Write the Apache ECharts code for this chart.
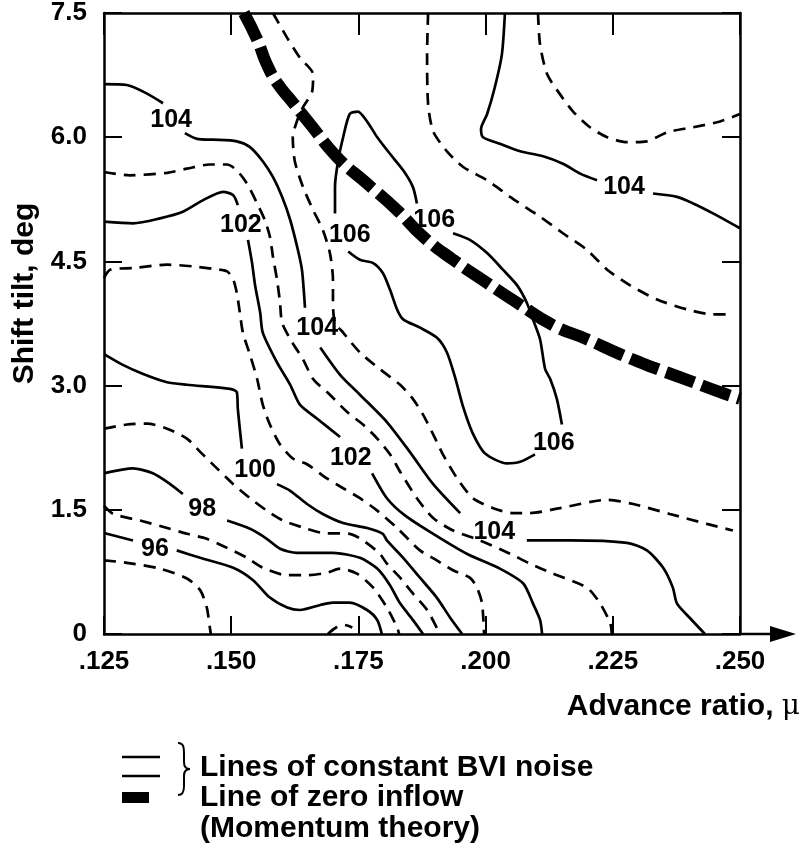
<!DOCTYPE html>
<html>
<head>
<meta charset="utf-8">
<script src="https://cdn.jsdelivr.net/npm/echarts/dist/echarts.min.js"></script>
<style>
  html, body { margin: 0; padding: 0; background: #fff; }
  #chart { width: 808px; height: 843px; }
</style>
</head>
<body>
<div id="chart"></div>
<script>
// Axis tick labels
const muTickLabels = ['.125', '.150', '.175', '.200', '.225', '.250'];
const tiltTickLabels = ['0', '1.5', '3.0', '4.5', '6.0', '7.5'];

// Lines of constant BVI noise, as [advance ratio, shaft tilt (deg)] segments.
// Segments are broken where an inline level label sits.
const bvi104West = [
  [[0.125, 6.64], [0.1295, 6.63], [0.1327, 6.55], [0.1366, 6.41]],
  [[0.1409, 6.05], [0.1433, 5.98], [0.1464, 5.97], [0.1511, 5.95], [0.1537, 5.88], [0.1562, 5.71], [0.1582, 5.52], [0.1600, 5.28], [0.1616, 5.00], [0.1631, 4.64], [0.1639, 4.40], [0.1643, 4.12], [0.1645, 3.94]],
  [[0.1675, 3.46], [0.1714, 3.13], [0.1753, 2.89], [0.1806, 2.56], [0.1851, 2.20], [0.1897, 1.81], [0.1950, 1.46]],
  [[0.2081, 1.13], [0.2166, 1.13], [0.2278, 1.10], [0.2317, 1.01], [0.2349, 0.80], [0.2368, 0.56], [0.2376, 0.37], [0.2402, 0.19], [0.2431, 0]]
];
const bvi104East = [
  [[0.2038, 7.5], [0.2032, 7.00], [0.2018, 6.60], [0.2003, 6.28], [0.1991, 6.10], [0.1995, 6.00], [0.2028, 5.92], [0.2068, 5.83], [0.2113, 5.77], [0.2152, 5.68], [0.2186, 5.56], [0.2219, 5.48]],
  [[0.2329, 5.32], [0.2376, 5.28], [0.2408, 5.20], [0.2447, 5.08], [0.25, 4.90]]
];
const bvi103 = [
  [[0.125, 5.58], [0.1301, 5.54], [0.1374, 5.57], [0.1413, 5.62], [0.1458, 5.67], [0.1492, 5.67], [0.1511, 5.60], [0.1531, 5.44], [0.1551, 5.20], [0.1566, 5.00], [0.1576, 4.80], [0.1582, 4.56], [0.1590, 4.28], [0.1596, 4.00], [0.1600, 3.76], [0.1620, 3.52], [0.1641, 3.32], [0.1661, 3.08], [0.1694, 2.89], [0.1728, 2.68], [0.1759, 2.53], [0.1787, 2.36], [0.1812, 2.17], [0.1832, 1.96], [0.1865, 1.64], [0.1897, 1.40], [0.1936, 1.25], [0.1989, 1.13], [0.2048, 0.97], [0.2087, 0.85], [0.2132, 0.73], [0.2199, 0.56], [0.2225, 0.37], [0.2245, 0.13], [0.2248, 0]]
];
const bvi102 = [
  [[0.125, 4.98], [0.1307, 4.96], [0.1360, 5.02], [0.1405, 5.10], [0.1445, 5.24], [0.1484, 5.34], [0.1504, 5.30], [0.1513, 5.18]],
  [[0.1533, 4.76], [0.1541, 4.48], [0.1547, 4.21], [0.1557, 3.88], [0.1562, 3.64], [0.1590, 3.28], [0.1616, 3.01], [0.1635, 2.77], [0.1669, 2.60], [0.1714, 2.38]],
  [[0.1777, 1.94], [0.1806, 1.64], [0.1842, 1.43], [0.1897, 1.21], [0.1963, 0.97], [0.2028, 0.79], [0.2074, 0.61], [0.2093, 0.37], [0.2107, 0.17], [0.2111, 0]]
];
const bvi101 = [
  [[0.125, 4.30], [0.1262, 4.40], [0.1307, 4.42], [0.1374, 4.46], [0.1425, 4.44], [0.1464, 4.41], [0.1492, 4.38], [0.1504, 4.28], [0.1511, 4.12], [0.1517, 3.88], [0.1523, 3.64], [0.1537, 3.37], [0.1551, 3.08], [0.1562, 2.77], [0.1576, 2.53], [0.1596, 2.29], [0.1621, 2.12], [0.1649, 2.05], [0.1688, 1.88], [0.1720, 1.76], [0.1753, 1.64], [0.1787, 1.49], [0.1826, 1.28], [0.1871, 1.01], [0.1904, 0.89], [0.1936, 0.77], [0.1969, 0.68], [0.1983, 0.56], [0.1993, 0.37], [0.1997, 0]]
];
const bvi100 = [
  [[0.125, 3.38], [0.1287, 3.25], [0.1327, 3.14], [0.1374, 3.04], [0.1413, 3.01], [0.1498, 2.96], [0.1511, 2.92], [0.1513, 2.72], [0.1521, 2.24]],
  [[0.1590, 1.81], [0.1616, 1.73], [0.1649, 1.57], [0.1680, 1.45], [0.1720, 1.34], [0.1767, 1.28], [0.1798, 1.21], [0.1806, 1.13], [0.1838, 0.92], [0.1871, 0.68], [0.1904, 0.44], [0.1930, 0.20], [0.1954, 0]]
];
const bvi99 = [
  [[0.125, 2.48], [0.1295, 2.53], [0.1335, 2.54], [0.1374, 2.48], [0.1413, 2.36], [0.1439, 2.20], [0.1472, 2.00], [0.1504, 1.81], [0.1537, 1.64], [0.1570, 1.49], [0.1602, 1.37], [0.1649, 1.27], [0.1680, 1.22], [0.1733, 1.21], [0.1759, 1.13], [0.1792, 0.97], [0.1806, 0.85], [0.1832, 0.68], [0.1857, 0.49], [0.1885, 0.29], [0.1906, 0.05], [0.1908, 0]]
];
const bvi98 = [
  [[0.125, 1.94], [0.1307, 2.00], [0.1346, 1.94], [0.1380, 1.81], [0.1405, 1.69]],
  [[0.1492, 1.37], [0.1537, 1.27], [0.1570, 1.15], [0.1596, 1.03], [0.1629, 0.98], [0.1700, 0.98], [0.1753, 0.92], [0.1787, 0.79], [0.1812, 0.59], [0.1832, 0.37], [0.1857, 0.17], [0.1877, 0]]
];
const bvi97 = [
  [[0.125, 1.55], [0.1268, 1.45], [0.1321, 1.37], [0.1374, 1.28], [0.1413, 1.21], [0.1452, 1.15], [0.1492, 1.04], [0.1531, 0.92], [0.1562, 0.80], [0.1610, 0.71], [0.1649, 0.71], [0.1688, 0.74], [0.1714, 0.79], [0.1747, 0.73], [0.1779, 0.56], [0.1806, 0.32], [0.1826, 0.08], [0.1830, 0]]
];
const bvi96 = [
  [[0.125, 1.22], [0.1307, 1.13]],
  [[0.1393, 1.01], [0.1439, 0.92], [0.1504, 0.80], [0.1543, 0.65], [0.1576, 0.44], [0.1610, 0.32], [0.1635, 0.29], [0.1675, 0.35], [0.1700, 0.38], [0.1733, 0.38], [0.1767, 0.29], [0.1787, 0.17], [0.1796, 0]]
];
const bvi95 = [
  [[0.125, 0.89], [0.1295, 0.86], [0.1360, 0.79], [0.1413, 0.67], [0.1439, 0.53], [0.1452, 0.32], [0.1458, 0.08], [0.1460, 0]],
  [[0.1690, 0], [0.1704, 0.07], [0.1722, 0.11], [0.1738, 0.08]]
];
const bvi105West = [
  [[0.1582, 7.5], [0.1610, 7.20], [0.1635, 6.96], [0.1661, 6.76], [0.1659, 6.55], [0.1641, 6.36], [0.1629, 6.19], [0.1621, 6.00], [0.1625, 5.71], [0.1641, 5.40], [0.1661, 5.12], [0.1680, 4.88], [0.1694, 4.60], [0.1700, 4.28], [0.1700, 4.00], [0.1704, 3.76], [0.1720, 3.64], [0.1753, 3.40], [0.1792, 3.20], [0.1832, 3.01], [0.1857, 2.84], [0.1877, 2.65], [0.1897, 2.41], [0.1916, 2.17], [0.1944, 1.88], [0.1975, 1.64], [0.2015, 1.52], [0.2054, 1.46], [0.2087, 1.46], [0.2146, 1.52], [0.2239, 1.62], [0.2290, 1.57], [0.2362, 1.45], [0.2435, 1.33], [0.2486, 1.25]]
];
const bvi105East = [
  [[0.1887, 7.5], [0.1885, 7.00], [0.1887, 6.40], [0.1897, 6.07], [0.1924, 5.83], [0.1956, 5.64], [0.2003, 5.48], [0.2048, 5.28], [0.2087, 5.12], [0.2107, 5.04], [0.2152, 4.84], [0.2199, 4.64], [0.2239, 4.40], [0.2284, 4.21], [0.2337, 4.04], [0.2396, 3.92], [0.2447, 3.86], [0.2480, 3.86]]
];
const bvi105Corner = [
  [[0.2103, 7.5], [0.2107, 7.12], [0.2121, 6.76], [0.2146, 6.52], [0.2172, 6.31], [0.2205, 6.12], [0.2239, 6.00], [0.2278, 5.94], [0.2317, 5.95], [0.2357, 6.06], [0.2408, 6.12], [0.2461, 6.19], [0.25, 6.28]]
];
const bvi106 = [
  [[0.1704, 5.08], [0.1704, 5.40], [0.1710, 5.71], [0.1720, 6.00], [0.1733, 6.28], [0.1749, 6.31], [0.1767, 6.19], [0.1787, 6.00], [0.1812, 5.80], [0.1838, 5.60], [0.1857, 5.40], [0.1865, 5.20]],
  [[0.1936, 4.84], [0.1969, 4.76], [0.2003, 4.60], [0.2034, 4.40], [0.2062, 4.21], [0.2081, 4.00], [0.2093, 3.80], [0.2107, 3.56], [0.2117, 3.20], [0.2127, 3.08], [0.2140, 2.84], [0.2150, 2.53]],
  [[0.2097, 2.17], [0.2068, 2.08], [0.2042, 2.06], [0.1999, 2.18], [0.1975, 2.42], [0.1956, 2.74], [0.1940, 3.10], [0.1924, 3.40], [0.1904, 3.58], [0.1871, 3.70], [0.1838, 3.80], [0.1826, 3.92], [0.1812, 4.16], [0.1798, 4.36], [0.1779, 4.48], [0.1753, 4.52], [0.1730, 4.62]]
];

// Inline level labels: [advance ratio, shaft tilt, level]
const levelLabels = [
  [0.1382, 6.21, 104], [0.1519, 4.94, 102], [0.1733, 4.82, 106], [0.1899, 5.00, 106],
  [0.1669, 3.69, 104], [0.1735, 2.13, 102], [0.1547, 1.98, 100], [0.1443, 1.51, 98],
  [0.1350, 1.03, 96], [0.2017, 1.23, 104], [0.2134, 2.31, 106], [0.2272, 5.40, 104]
];

// Line of zero inflow (momentum theory)
const zeroInflow = [
  [0.1525, 7.5], [0.1551, 7.18], [0.1570, 6.88], [0.1592, 6.64], [0.1621, 6.42], [0.1655, 6.16],
  [0.1708, 5.76], [0.1767, 5.44], [0.1826, 5.12], [0.1877, 4.80], [0.1936, 4.52], [0.2003, 4.24],
  [0.2062, 4.00], [0.2132, 3.73], [0.2199, 3.56], [0.2264, 3.38], [0.2329, 3.22], [0.2396, 3.07],
  [0.2461, 2.92], [0.25, 2.84]
];

const FONT = "'Liberation Sans', Arial, Helvetica, sans-serif";
const DASH = [12, 8];

const contourSets = [
  { segs: bvi104West, dashed: false }, { segs: bvi104East, dashed: false },
  { segs: bvi103, dashed: true }, { segs: bvi102, dashed: false },
  { segs: bvi101, dashed: true }, { segs: bvi100, dashed: false },
  { segs: bvi99, dashed: true }, { segs: bvi98, dashed: false },
  { segs: bvi97, dashed: true }, { segs: bvi96, dashed: false },
  { segs: bvi95, dashed: true }, { segs: bvi105West, dashed: true },
  { segs: bvi105East, dashed: true }, { segs: bvi105Corner, dashed: true },
  { segs: bvi106, dashed: false }
];

const series = [];
contourSets.forEach(set => {
  set.segs.forEach(seg => {
    series.push({
      type: 'line', data: seg, symbol: 'none', smooth: 0.25, silent: true,
      lineStyle: { color: '#000', width: 2.7, type: set.dashed ? DASH : 'solid', cap: 'butt' },
      z: 2
    });
  });
});
series.push({
  type: 'line', data: zeroInflow, symbol: 'none', smooth: true, silent: true,
  lineStyle: { color: '#000', width: 12, type: [30, 8], cap: 'butt' },
  z: 3
});
series.push({
  type: 'scatter', data: levelLabels, symbolSize: 1, silent: true,
  itemStyle: { color: 'rgba(0,0,0,0)', opacity: 1 },
  label: {
    show: true, position: 'inside', formatter: p => String(p.value[2]),
    fontFamily: FONT, fontWeight: 'bold', fontSize: 25, color: '#000', opacity: 1
  },
  z: 4
});

const frameLine = { lineStyle: { color: '#000', width: 2.5 }, onZero: false };
const tickIn = (len) => ({ inside: true, length: len, lineStyle: { color: '#000', width: 2 } });
const labelFont = { fontFamily: FONT, fontWeight: 'bold', fontSize: 26, color: '#000' };

const option = {
  animation: false,
  backgroundColor: '#fff',
  grid: { left: 104, right: 68, top: 8, bottom: 209 },
  xAxis: [
    {
      type: 'value', position: 'bottom', min: 0.125, max: 0.25, interval: 0.025,
      axisLine: frameLine, axisTick: tickIn(18), splitLine: { show: false },
      axisLabel: Object.assign({ margin: 15, formatter: v => muTickLabels[Math.round((v - 0.125) / 0.025)] }, labelFont),
      name: 'Advance ratio, {mu|μ}', nameLocation: 'end', nameGap: 60,
      nameTextStyle: {
        fontFamily: FONT, fontWeight: 'bold', fontSize: 30, color: '#000',
        align: 'right', verticalAlign: 'top', padding: [58, 0, 0, 0],
        rich: { mu: { fontFamily: "'DejaVu Serif', serif", fontWeight: 'normal', fontSize: 28, color: '#000' } }
      }
    },
    {
      type: 'value', position: 'top', min: 0.125, max: 0.25, interval: 0.025,
      axisLine: frameLine, axisTick: tickIn(22), axisLabel: { show: false }, splitLine: { show: false }
    }
  ],
  yAxis: [
    {
      type: 'value', position: 'left', min: 0, max: 7.5, interval: 1.5,
      axisLine: frameLine, axisTick: tickIn(18), splitLine: { show: false },
      axisLabel: Object.assign({ margin: 17, formatter: v => tiltTickLabels[Math.round(v / 1.5)] }, labelFont),
      name: 'Shift tilt, deg', nameLocation: 'middle', nameGap: 64,
      nameTextStyle: { fontFamily: FONT, fontWeight: 'bold', fontSize: 30, color: '#000', padding: [0, 0, 0, 60] }
    },
    {
      type: 'value', position: 'right', min: 0, max: 7.5, interval: 1.5,
      axisLine: frameLine, axisTick: tickIn(18), axisLabel: { show: false }, splitLine: { show: false }
    }
  ],
  series: series
};

const chart = echarts.init(document.getElementById('chart'));
chart.setOption(option);

// Arrow continuing the advance-ratio axis past the frame, plus the key below the plot
const end = chart.convertToPixel({ xAxisIndex: 0, yAxisIndex: 0 }, [0.25, 0]);
const legendText = (x, y, text) => ({
  type: 'text', x: x, y: y,
  style: { text: text, fontFamily: FONT, fontWeight: 'bold', fontSize: 30, fill: '#000', verticalAlign: 'middle' }
});
chart.setOption({
  graphic: [
    { type: 'line', shape: { x1: end[0], y1: end[1], x2: end[0] + 36, y2: end[1] }, style: { stroke: '#000', lineWidth: 2.5 } },
    { type: 'polygon', shape: { points: [[end[0] + 30, end[1] - 8], [end[0] + 56, end[1]], [end[0] + 30, end[1] + 8]] }, style: { fill: '#000' } },

    { type: 'line', shape: { x1: 122, y1: 757, x2: 160, y2: 757 }, style: { stroke: '#000', lineWidth: 2.5 } },
    { type: 'line', shape: { x1: 122, y1: 776, x2: 160, y2: 776 }, style: { stroke: '#000', lineWidth: 2.5 } },
    { type: 'bezierCurve', shape: { x1: 178, y1: 743, cpx1: 184, cpy1: 743, cpx2: 184, cpy2: 748, x2: 184, y2: 755 }, style: { stroke: '#000', lineWidth: 2, fill: null } },
    { type: 'line', shape: { x1: 184, y1: 755, x2: 184, y2: 762 }, style: { stroke: '#000', lineWidth: 2 } },
    { type: 'bezierCurve', shape: { x1: 184, y1: 762, cpx1: 184, cpy1: 767, cpx2: 186, cpy2: 769, x2: 190, y2: 769 }, style: { stroke: '#000', lineWidth: 2, fill: null } },
    { type: 'bezierCurve', shape: { x1: 190, y1: 769, cpx1: 186, cpy1: 769, cpx2: 184, cpy2: 771, x2: 184, y2: 776 }, style: { stroke: '#000', lineWidth: 2, fill: null } },
    { type: 'line', shape: { x1: 184, y1: 776, x2: 184, y2: 786 }, style: { stroke: '#000', lineWidth: 2 } },
    { type: 'bezierCurve', shape: { x1: 184, y1: 786, cpx1: 184, cpy1: 793, cpx2: 182, cpy2: 795, x2: 178, y2: 795 }, style: { stroke: '#000', lineWidth: 2, fill: null } },
    legendText(200, 768, 'Lines of constant BVI noise'),

    { type: 'rect', shape: { x: 122, y: 792, width: 27, height: 11 }, style: { fill: '#000' } },
    legendText(200, 798, 'Line of zero inflow'),
    legendText(200, 829, '(Momentum theory)')
  ]
});
</script>
</body>
</html>
